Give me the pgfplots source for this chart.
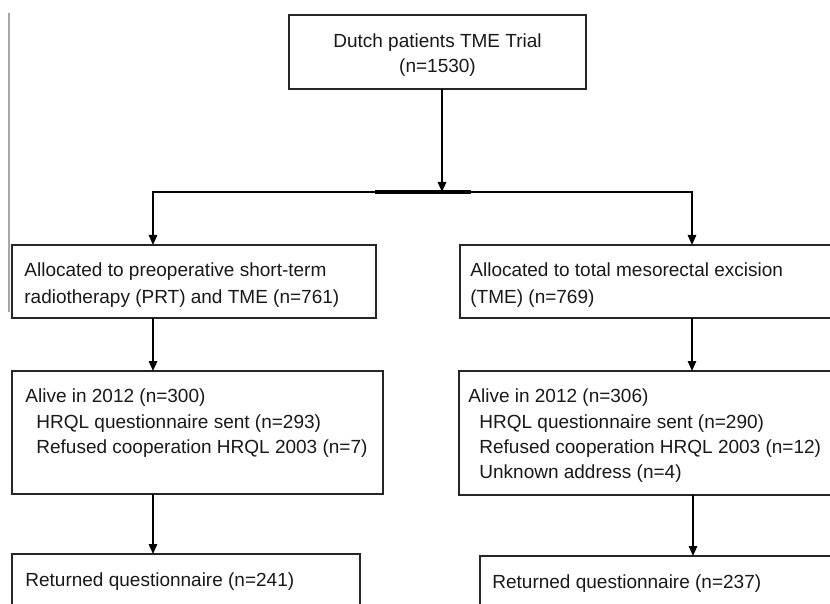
\documentclass[border=0pt]{standalone}
\usepackage{pgfplots}
\pgfplotsset{compat=1.18}
\usepackage{fontspec}
\setmainfont{Liberation Sans}
\usetikzlibrary{arrows.meta}
\begin{document}
\begin{tikzpicture}[txt/.style={font=\fontsize{9.5}{13.5}\selectfont, inner sep=0pt, anchor=base west, text=black!90}]
\begin{axis}[
  width=415pt, height=302pt, scale only axis,
  xmin=0, xmax=830, ymin=0, ymax=604, y dir=reverse,
  hide axis, clip=true,
  bx/.style={line width=0.85pt, draw=black!85, solid, mark=none},
  ar/.style={line width=0.8pt, draw=black, solid, mark=none, -{Triangle[length=5pt,width=4.2pt]}},
]
% background (sets the frame)
\addplot[fill=white, draw=none, mark=none] coordinates {(0,0)(830,0)(830,604)(0,604)} -- cycle;
% left gray margin line
\addplot[draw=gray!70, line width=0.9pt, mark=none] coordinates {(9,13)(9,312)};
% boxes
\addplot[bx] coordinates {(289,15)(586,15)(586,89)(289,89)} -- cycle;
\addplot[bx] coordinates {(12,245)(376,245)(376,318)(12,318)} -- cycle;
\addplot[bx] coordinates {(860,245)(460,245)(460,318)(860,318)};
\addplot[bx] coordinates {(12,371)(383,371)(383,494)(12,494)} -- cycle;
\addplot[bx] coordinates {(860,371)(459,371)(459,495)(860,495)};
\addplot[bx] coordinates {(360,620)(360,554)(12,554)(12,620)};
\addplot[bx] coordinates {(860,556)(480,556)(480,620)};
% connectors
\addplot[ar] coordinates {(442,89)(442,192)};
\addplot[line width=0.8pt, draw=black, mark=none] coordinates {(153,200)(153,192)(692,192)(692,200)};
\addplot[line width=1.8pt, draw=black, mark=none] coordinates {(375,192)(471,192)};
\addplot[ar] coordinates {(153,192)(153,245)};
\addplot[ar] coordinates {(692,192)(692,245)};
\addplot[ar] coordinates {(153,318)(153,371)};
\addplot[ar] coordinates {(692,318)(692,371)};
\addplot[ar] coordinates {(153,494)(153,554)};
\addplot[ar] coordinates {(693,495)(693,556)};
% texts
\node[txt, anchor=base] at (axis cs:437.5,48) {Dutch patients TME Trial};
\node[txt, anchor=base] at (axis cs:437.5,73) {(n=1530)};
\node[txt] at (axis cs:24,277) {Allocated to preoperative short-term};
\node[txt] at (axis cs:24,304) {radiotherapy (PRT) and TME (n=761)};
\node[txt] at (axis cs:470,277) {Allocated to total mesorectal excision};
\node[txt] at (axis cs:470,304) {(TME) (n=769)};
\node[txt] at (axis cs:25,402) {Alive in 2012 (n=300)};
\node[txt] at (axis cs:36,428) {HRQL questionnaire sent (n=293)};
\node[txt] at (axis cs:36,453) {Refused cooperation HRQL 2003 (n=7)};
\node[txt] at (axis cs:468,402) {Alive in 2012 (n=306)};
\node[txt] at (axis cs:479,428) {HRQL questionnaire sent (n=290)};
\node[txt] at (axis cs:479,453) {Refused cooperation HRQL 2003 (n=12)};
\node[txt] at (axis cs:479,478) {Unknown address (n=4)};
\node[txt] at (axis cs:25,586) {Returned questionnaire (n=241)};
\node[txt] at (axis cs:492,588) {Returned questionnaire (n=237)};
\end{axis}
\end{tikzpicture}
\end{document}
